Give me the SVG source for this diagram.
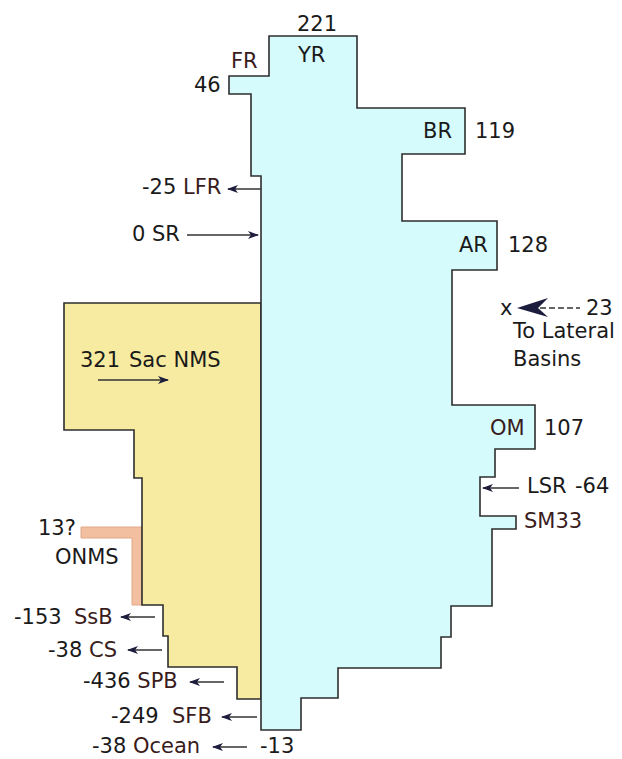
<svg xmlns="http://www.w3.org/2000/svg" width="622" height="759" viewBox="0 0 622 759">
<style>
text{font-family:"DejaVu Sans","Liberation Sans",sans-serif;font-size:21px;fill:#1a1a1a}
.br{fill:#3a1c1c}
.shape{stroke:#2e2e2e;stroke-width:1.6;stroke-linejoin:miter}
.arr{stroke:#333;stroke-width:1.3;fill:none;marker-end:url(#ah)}
</style>
<defs>
<marker id="ah" markerUnits="userSpaceOnUse" markerWidth="11" markerHeight="8" refX="10" refY="4" orient="auto">
<path d="M0,0 L11,4 L0,8 L3,4 Z" fill="#1c1c3c"/>
</marker>
</defs>
<rect width="622" height="759" fill="#fff"/>
<g id="onms">
<polygon points="81,527 142,527 142,605 132,605 132,538 81,538" fill="#f2bfa0" stroke="#e0a888" stroke-width="1"/>
</g>
<g id="sac">
<polygon class="shape" points="64,303 261,303 261,699 237,699 237,667 168,667 168,636 163,636 163,605 142,605 142,478 134,478 134,430 64,430" fill="#f6eba0"/>
</g>
<g id="main">
<polygon class="shape" points="269,36 357,36 357,108 465,108 465,154 402,154 402,221 497,221 497,270 452,270 452,405 535,405 535,449 495,449 495,477 480,477 480,516 516,516 516,529 492,529 492,606 451,606 451,637 441,637 441,668 338,668 338,698 301,698 301,730 261,730 261,176 251,176 251,94 229,94 229,76 269,76" fill="#d6fbfd"/>
</g>
<g id="connectors">
<line class="arr" x1="261" y1="189" x2="228" y2="189"/>
<line class="arr" x1="187" y1="235" x2="258" y2="235"/>
<line class="arr" x1="98" y1="380" x2="168" y2="380"/>
<line class="arr" x1="519" y1="488" x2="483" y2="488"/>
<line class="arr" x1="155" y1="617" x2="121" y2="617"/>
<line class="arr" x1="162" y1="650" x2="128" y2="650"/>
<line class="arr" x1="224" y1="682" x2="190" y2="682"/>
<line class="arr" x1="257" y1="717" x2="222" y2="717"/>
<line class="arr" x1="247" y1="747" x2="213" y2="747"/>
<line x1="540" y1="308" x2="580" y2="308" stroke="#333" stroke-width="1.4" stroke-dasharray="6,3"/>
<path d="M517,308 L548,298 L538,308 L548,317 Z" fill="#1c1c3c"/>
</g>
<g id="labels">
<text x="297" y="31">221</text>
<text x="298" y="62">YR</text>
<text x="231" y="68" class="br">FR</text>
<text x="194" y="92">46</text>
<text x="423" y="138">BR</text>
<text x="475" y="138">119</text>
<text x="142" y="194">-25 <tspan class="br">LFR</tspan></text>
<text x="132" y="241">0 SR</text>
<text x="459" y="252">AR</text>
<text x="508" y="252">128</text>
<text x="500" y="315">x</text>
<text x="586" y="315">23</text>
<text x="513" y="338">To Lateral</text>
<text x="513" y="366">Basins</text>
<text x="80" y="367">321</text>
<text x="129" y="367">Sac NMS</text>
<text x="490" y="435" class="br">OM</text>
<text x="544" y="435">107</text>
<text x="527" y="493">LSR</text>
<text x="575" y="493">-64</text>
<text x="524" y="528" class="br">SM33</text>
<text x="38" y="535">13?</text>
<text x="55" y="564">ONMS</text>
<text x="14" y="624">-153</text>
<text x="74" y="624" class="br">SsB</text>
<text x="48" y="657">-38 <tspan class="br">CS</tspan></text>
<text x="83" y="688">-436 <tspan class="br">SPB</tspan></text>
<text x="111" y="723">-249</text>
<text x="172" y="723" class="br">SFB</text>
<text x="92" y="753">-38</text>
<text x="133" y="753" class="br">Ocean</text>
<text x="260" y="753">-13</text>
</g>
</svg>
